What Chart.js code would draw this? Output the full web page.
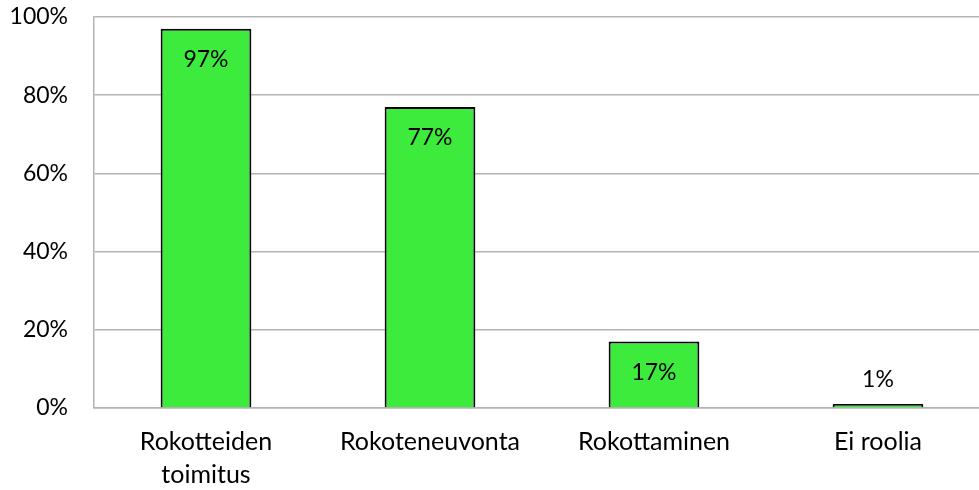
<!DOCTYPE html>
<html>
<head>
<meta charset="utf-8">
<script src="https://cdn.jsdelivr.net/npm/chart.js@4"></script>
<style>
  html, body { margin: 0; padding: 0; background: #fff; overflow: hidden; }
  #wrap { width: 990px; height: 490px; }
</style>
</head>
<body>
<div id="wrap"><canvas id="roleChart"></canvas></div>
<script>
// categories and shares (%)
const categories = [['Rokotteiden', 'toimitus'], 'Rokoteneuvonta', 'Rokottaminen', 'Ei roolia'];
const shares = [97, 77, 17, 1];
const yTicks = [0, 20, 40, 60, 80, 100];

const FONT = 'Lato, "Open Sans", sans-serif';

// value labels: inside the bar near its top, above it when the bar is too short
const barLabels = {
    id: 'barLabels',
    afterDatasetsDraw(chart) {
        const ctx = chart.ctx;
        const meta = chart.getDatasetMeta(0);
        ctx.save();
        ctx.font = '23px ' + FONT;
        ctx.fillStyle = '#000';
        ctx.textAlign = 'center';
        ctx.textBaseline = 'middle';
        meta.data.forEach((bar, i) => {
            const h = bar.base - bar.y;
            const y = h > 50 ? bar.y + 31 : bar.y - 25;
            ctx.fillText(shares[i] + '%', bar.x, y);
        });
        ctx.restore();
    }
};

const ctx = document.getElementById('roleChart').getContext('2d');
new Chart(ctx, {
    type: 'bar',
    data: {
        labels: categories,
        datasets: [{
            data: shares,
            backgroundColor: '#3deb3d',
            borderColor: '#000',
            borderWidth: 2,
            barPercentage: 0.405,
            categoryPercentage: 1
        }]
    },
    options: {
        responsive: true,
        maintainAspectRatio: false,
        animation: false,
        layout: { padding: { top: 17, right: 0, bottom: 0, left: 0 } },
        plugins: {
            legend: { display: false },
            tooltip: { enabled: false }
        },
        scales: {
            x: {
                grid: { display: false, drawTicks: false },
                border: { color: '#b3b3b3', width: 1.5 },
                ticks: {
                    color: '#000',
                    font: { family: FONT, size: 25, lineHeight: 1.3 },
                    padding: 18,
                    maxRotation: 0
                },
                afterFit(scale) { scale.height = 82; }
            },
            y: {
                min: 0,
                max: 100,
                afterBuildTicks(scale) { scale.ticks = yTicks.map(v => ({ value: v })); },
                grid: { color: '#b3b3b3', lineWidth: 1.5, drawTicks: false },
                border: { color: '#b3b3b3', width: 1.5 },
                ticks: {
                    color: '#000',
                    font: { family: FONT, size: 23 },
                    padding: 26,
                    callback: v => v + '%'
                },
                afterFit(scale) {
                    scale.width = 94;
                    scale.paddingTop = 0;
                    scale.paddingBottom = 0;
                }
            }
        }
    },
    plugins: [barLabels]
});
</script>
</body>
</html>
